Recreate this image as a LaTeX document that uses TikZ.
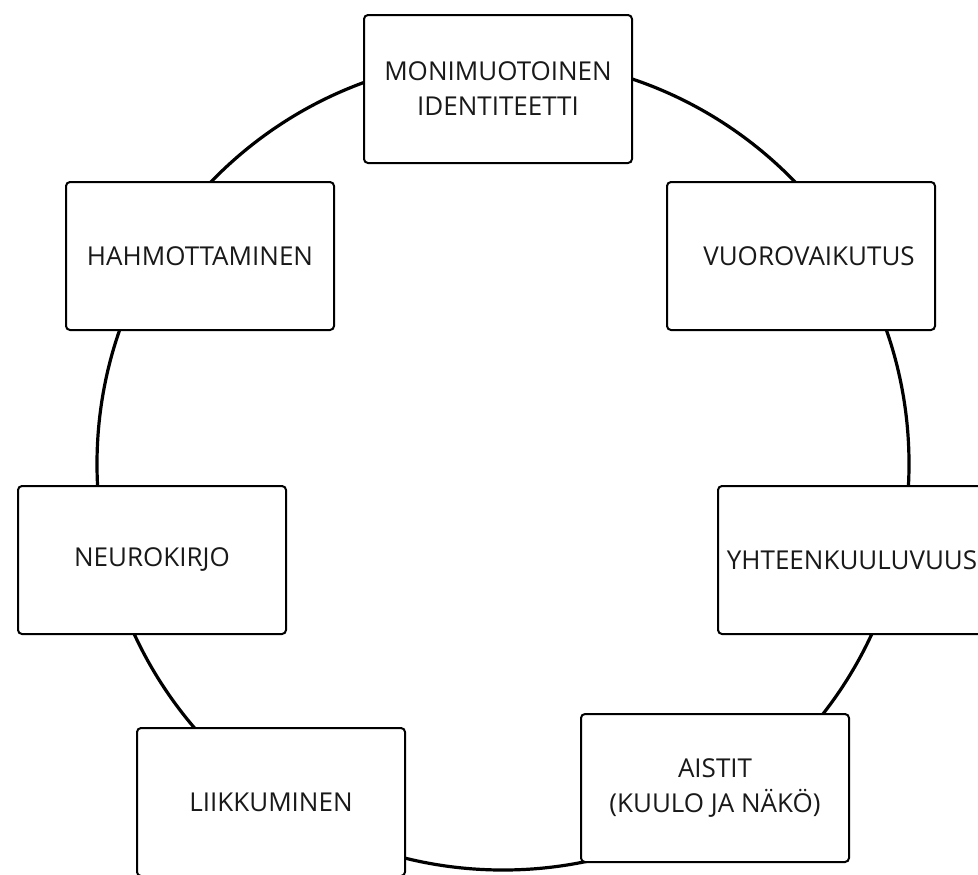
\documentclass[tikz,border=0pt]{standalone}
\usepackage{fontspec}
\setmainfont{Open Sans}
\usepackage{tikz}
\usetikzlibrary{positioning}
\tikzset{
    teema/.style={
        rectangle,
        draw=black,
        line width=1pt,
        rounded corners=2pt,
        minimum width=134pt,
        minimum height=74pt,
        fill=white,
        align=center,
        font=\fontsize{13}{17.5}\selectfont,
        text=black!90
    },
    kehä/.style={
        draw=black,
        line width=1.6pt
    }
}
\begin{document}
\begin{tikzpicture}[x=0.5pt, y=-0.5pt]

% Picture frame
\useasboundingbox (0,0) rectangle (978,874);
\clip (0,0) rectangle (978,874);

% Circle behind the boxes
\coordinate (keskus) at (503,464);
\draw[kehä] (keskus) circle[radius=203pt];

% Boxes
\node[teema] (identiteetti) at (498,89) {MONIMUOTOINEN\\IDENTITEETTI};
\node[teema] (vuorovaikutus) at (801,256) {\hspace*{8pt}VUOROVAIKUTUS};
\node[teema] (yhteenkuuluvuus) at (852,560) {YHTEENKUULUVUUS};
\node[teema] (aistit) at (715,788) {AISTIT\\(KUULO JA NÄKÖ)};
\node[teema] (liikkuminen) at (271,802) {LIIKKUMINEN};
\node[teema] (neurokirjo) at (152,560) {NEUROKIRJO};
\node[teema] (hahmottaminen) at (200,256) {HAHMOTTAMINEN};

\end{tikzpicture}
\end{document}
